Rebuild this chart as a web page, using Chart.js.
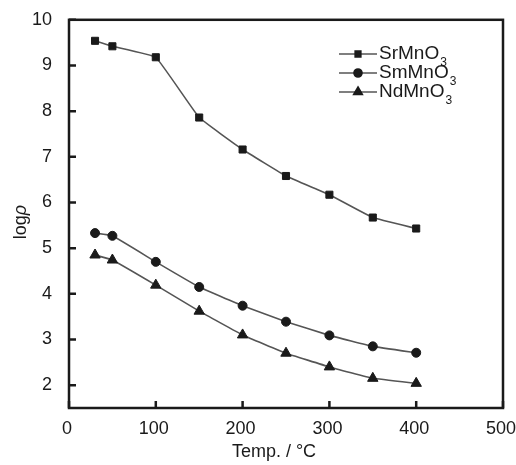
<!DOCTYPE html>
<html>
<head>
<meta charset="utf-8">
<script src="https://cdn.jsdelivr.net/npm/chart.js@4.4.1/dist/chart.umd.min.js"></script>
<style>
  html, body { margin: 0; padding: 0; background: #fff; }
  #wrap { width: 516px; height: 465px; }
</style>
</head>
<body>
<div id="wrap"><canvas id="chart" width="516" height="465"></canvas></div>
<script>
// temperatures (°C)
var temps = [30, 50, 100, 150, 200, 250, 300, 350, 400];
var srMnO3 = [9.54, 9.42, 9.18, 7.86, 7.16, 6.58, 6.17, 5.67, 5.43];
var smMnO3 = [5.33, 5.27, 4.70, 4.15, 3.74, 3.39, 3.09, 2.85, 2.71];
var ndMnO3 = [4.85, 4.74, 4.19, 3.62, 3.10, 2.70, 2.40, 2.15, 2.04];
var seriesNames = ["SrMnO", "SmMnO", "NdMnO"];
var markers = ["rect", "circle", "triangle"];
var yTicks = [2, 3, 4, 5, 6, 7, 8, 9, 10];
var xTicks = [0, 100, 200, 300, 400, 500];

var FONT = "'Liberation Sans', Arial, sans-serif";
var INK = "#1a1a1a";
var LINE = "#555";

function pts(ys) {
  return temps.map(function(t, i) { return {x: t, y: ys[i]}; });
}

function makeSet(label, ys, style, r) {
  return {
    label: label,
    data: pts(ys),
    borderColor: LINE,
    borderWidth: 1.6,
    backgroundColor: INK,
    pointStyle: style,
    pointRadius: r,
    pointBorderColor: INK,
    pointBorderWidth: 1,
    pointBackgroundColor: INK,
    tension: 0.08,
    fill: false
  };
}

//frame, inward ticks, legend and axis titles
var framePlugin = {
  id: "frame",
  afterDraw: function(chart) {
    var ctx = chart.ctx;
    var a = chart.chartArea;
    var xs = chart.scales.x, ys = chart.scales.y;
    ctx.save();
    ctx.strokeStyle = INK;
    ctx.lineWidth = 2.5;
    ctx.strokeRect(a.left, a.top, a.right - a.left, a.bottom - a.top);
    ctx.beginPath();
    xTicks.forEach(function(v) {
      var px = xs.getPixelForValue(v);
      ctx.moveTo(px, a.bottom);
      ctx.lineTo(px, a.bottom - 7);
    });
    yTicks.forEach(function(v) {
      var py = ys.getPixelForValue(v);
      ctx.moveTo(a.left, py);
      ctx.lineTo(a.left + 7, py);
    });
    ctx.stroke();

    // legend
    var rowY = [54, 73, 92];
    var legR = [4, 4, 5];
    chart.data.datasets.forEach(function(ds, i) {
      var y = rowY[i];
      ctx.strokeStyle = LINE;
      ctx.lineWidth = 1.6;
      ctx.beginPath();
      ctx.moveTo(339, y);
      ctx.lineTo(377, y);
      ctx.stroke();
      ctx.fillStyle = INK;
      ctx.strokeStyle = INK;
      Chart.helpers.drawPoint(ctx, {pointStyle: ds.pointStyle, radius: legR[i], borderWidth: 1}, 358, y);
      ctx.fillStyle = INK;
      ctx.textBaseline = "middle";
      ctx.textAlign = "left";
      ctx.font = "19px " + FONT;
      ctx.fillText(seriesNames[i], 379, y);
      var w = ctx.measureText(seriesNames[i]).width;
      ctx.font = "12px " + FONT;
      ctx.fillText("3", 379 + w + 1, y + 9);
    });

    // y title
    ctx.save();
    ctx.translate(21, 222);
    ctx.rotate(-Math.PI / 2);
    ctx.textAlign = "left";
    ctx.textBaseline = "middle";
    ctx.font = "18px " + FONT;
    var w1 = ctx.measureText("log").width;
    ctx.font = "italic 18px " + FONT;
    var w2 = ctx.measureText("ρ").width;
    var sx = -(w1 + w2) / 2;
    ctx.font = "18px " + FONT;
    ctx.fillStyle = INK;
    ctx.fillText("log", sx, 0);
    ctx.font = "italic 18px " + FONT;
    ctx.fillText("ρ", sx + w1, 0);
    ctx.restore();

    // x title
    ctx.textAlign = "center";
    ctx.textBaseline = "middle";
    ctx.font = "18px " + FONT;
    ctx.fillStyle = INK;
    ctx.fillText("Temp. / \u00B0C", 274, 452);
    ctx.restore();
  }
};

var ctx1 = document.getElementById("chart");

new Chart(ctx1, {
  type: "line",
  data: {
    datasets: [
      makeSet("SrMnO3", srMnO3, markers[0], 5),
      makeSet("SmMnO3", smMnO3, markers[1], 4.5),
      makeSet("NdMnO3", ndMnO3, markers[2], 6)
    ]
  },
  options: {
    responsive: false,
    animation: false,
    layout: { autoPadding: false, padding: { left: 0, top: 17, right: 13, bottom: 0 } },
    plugins: {
      legend: { display: false },
      tooltip: { enabled: false }
    },
    scales: {
      x: {
        type: "linear",
        min: 0,
        max: 500,
        afterBuildTicks: function(s) { s.ticks = xTicks.map(function(v) { return {value: v}; }); },
        afterFit: function(s) { s.height = 57; s.paddingLeft = 0; s.paddingRight = 0; },
        grid: { display: false },
        border: { display: false },
        ticks: { color: INK, font: { family: FONT, size: 18 }, padding: 2, labelOffset: -2, maxRotation: 0 }
      },
      y: {
        type: "linear",
        min: 1.5,
        max: 10,
        afterBuildTicks: function(s) { s.ticks = yTicks.map(function(v) { return {value: v}; }); },
        afterFit: function(s) { s.width = 69; },
        grid: { display: false },
        border: { display: false },
        ticks: { color: INK, font: { family: FONT, size: 18 }, padding: 9 }
      }
    }
  },
  plugins: [framePlugin]
});
</script>
</body>
</html>
